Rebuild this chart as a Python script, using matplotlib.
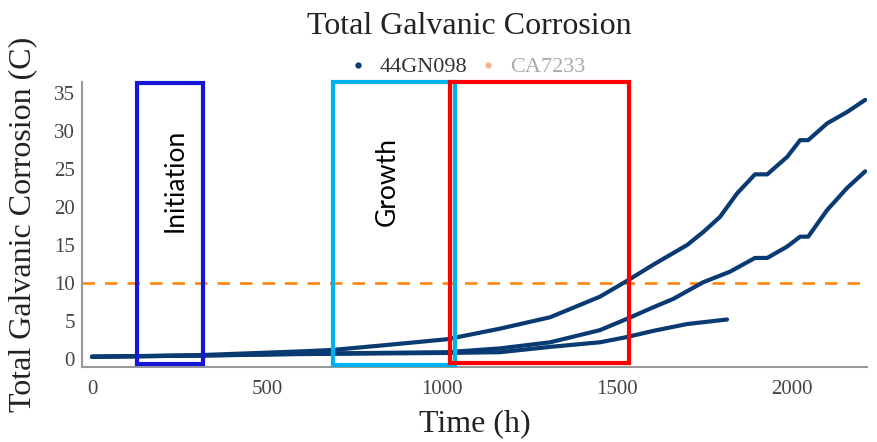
import matplotlib
matplotlib.use("Agg")
import matplotlib.pyplot as plt
from matplotlib.patches import Rectangle
from matplotlib.lines import Line2D

# ---- data ----
top_x = [0, 300, 594, 689, 831, 1014, 1166, 1309, 1451, 1529, 1603, 1700, 1746, 1794, 1843,
         1894, 1929, 1986, 2023, 2046, 2100, 2157, 2209]
top_y = [0.3, 0.5, 1.0, 1.2, 1.8, 2.6, 4.0, 5.5, 8.2, 10.3, 12.4, 15.0, 16.7, 18.7, 21.8,
         24.3, 24.3, 26.6, 28.8, 28.8, 31.0, 32.5, 34.1]

mid_x = [0, 300, 594, 1014, 1166, 1309, 1451, 1529, 1603, 1660, 1746, 1823, 1894, 1929, 1986,
         2023, 2046, 2100, 2157, 2209]
mid_y = [0.3, 0.45, 0.7, 0.9, 1.4, 2.2, 3.8, 5.3, 6.8, 7.9, 10.1, 11.5, 13.3, 13.3, 14.8,
         16.1, 16.1, 19.6, 22.5, 24.7]

low_x = [0, 300, 594, 1014, 1166, 1309, 1451, 1529, 1603, 1700, 1814]
low_y = [0.3, 0.45, 0.65, 0.8, 0.9, 1.6, 2.2, 2.9, 3.7, 4.6, 5.2]

threshold = 10
threshold_x = [-28, 2205]

phases = ["Initiation", "Growth", ""]
phase_x0 = [129, 689, 1023]
phase_x1 = [317, 1037, 1534]
phase_y0 = [-0.7, -0.8, -0.5]
phase_y1 = [36.3, 36.45, 36.5]
phase_label_pos = [(237, 23.5), (843, 23.4)]

series_labels = ["44GN098", "CA7233"]
xticks = [0, 500, 1000, 1500, 2000]
yticks = [0, 5, 10, 15, 20, 25, 30, 35]

# ---- style ----
navy = "#0a3a72"
orange = "#ff8000"
phase_colors = ["#1616d8", "#00b2f0", "#ff0000"]
serif = ["Liberation Serif", "DejaVu Serif"]
sans = ["Lato", "DejaVu Sans"]

W, H = 877, 442
fig = plt.figure(figsize=(W / 100, H / 100), dpi=100)
ax = fig.add_axes([82 / W, 1 - 367 / H, (867 - 82) / W, (367 - 82) / H])

for xs, ys in [(top_x, top_y), (mid_x, mid_y), (low_x, low_y)]:
    ax.plot(xs, ys, color=navy, lw=3.0, solid_capstyle="round", solid_joinstyle="round", zorder=3)

thr, = ax.plot(threshold_x, [threshold, threshold], color=orange, lw=1.8, zorder=2)
thr.set_dashes((5, 4))

for i, c in enumerate(phase_colors):
    r = Rectangle((phase_x0[i], phase_y0[i]), phase_x1[i] - phase_x0[i], phase_y1[i] - phase_y0[i],
                  fill=False, edgecolor=c, lw=3.0, clip_on=False, zorder=4)
    ax.add_patch(r)
for name, (px, py) in zip(phases[:2], phase_label_pos):
    ax.text(px, py, name, rotation=90, ha="center", va="center", fontsize=19,
            family=sans, color="black")

ax.set_xlim(-28.6, 2214)
ax.set_ylim(-1.05, 36.45)
ax.set_xticks(xticks)
ax.set_yticks(yticks)
ax.tick_params(length=0, labelsize=15, colors="#444444", pad=5)
ax.tick_params(axis="x", pad=9)
for lab in ax.get_xticklabels() + ax.get_yticklabels():
    lab.set_family(serif)
for s in ["top", "right"]:
    ax.spines[s].set_visible(False)
for s in ["left", "bottom"]:
    ax.spines[s].set_color("#999999")
    ax.spines[s].set_linewidth(1.5)

ax.set_xlabel("Time (h)", fontsize=23, family=serif, color="#222222", labelpad=8)
ax.set_ylabel("Total Galvanic Corrosion (C)", fontsize=23, family=serif, color="#222222", labelpad=12)
fig.text(469 / W, 1 - 26 / H, "Total Galvanic Corrosion", ha="center", va="center",
         fontsize=23, family=serif, color="#222222")

handles = [Line2D([], [], ls="none", marker="o", ms=3.5, color=navy),
           Line2D([], [], ls="none", marker="o", ms=3.5, color="#f6b48a")]
leg = fig.legend(handles, series_labels, loc="center", bbox_to_anchor=(467 / W, 1 - 67 / H),
                 ncol=2, frameon=False, handlelength=0.8, handletextpad=0.6, columnspacing=0.5,
                 prop={"family": serif, "size": 16})
leg.get_texts()[0].set_color("#333333")
leg.get_texts()[1].set_color("#aaaaaa")

fig.savefig("out.png", dpi=100)
